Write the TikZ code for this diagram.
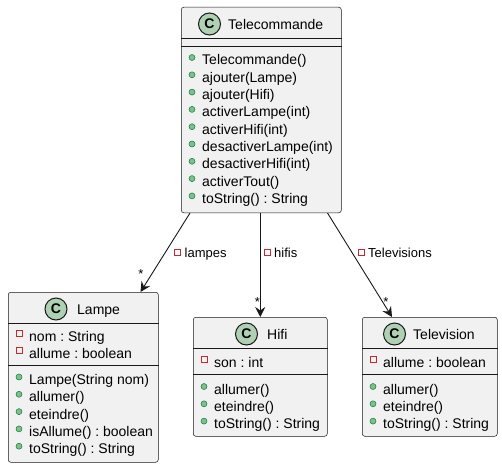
\documentclass[tikz,border=0pt]{standalone}
\usepackage{fontspec}
\setmainfont{Liberation Sans}
\usetikzlibrary{arrows.meta}
\frenchspacing

\definecolor{boxfill}{HTML}{F1F1F1}
\definecolor{boxline}{HTML}{181818}
\definecolor{cfill}{HTML}{ADD1B2}
\definecolor{pubfill}{HTML}{84BE84}
\definecolor{publine}{HTML}{038048}
\definecolor{privline}{HTML}{C82930}

\begin{document}
\begin{tikzpicture}[x=1pt,y=-1pt,
	cls/.style={draw=boxline,line width=0.5pt,fill=boxfill,rounded corners=2.5pt,anchor=north west,inner sep=0pt},
	cmark/.style={circle,draw=boxline,line width=1pt,fill=cfill,minimum size=22pt,inner sep=0pt,font=\fontsize{14}{14}\selectfont\bfseries},
	cname/.style={anchor=base west,inner sep=0pt,font=\fontsize{14}{16}\selectfont},
	memb/.style={anchor=base west,inner sep=0pt,font=\fontsize{14}{16}\selectfont},
	sep/.style={draw=boxline,line width=0.5pt},
	pub/.style={fill=pubfill,draw=publine,line width=0.5pt},
	priv/.style={draw=privline,line width=0.8pt},
	assoc/.style={draw=boxline,line width=0.9pt,-{Stealth[length=10pt,width=10pt,inset=3.5pt]}},
	elabel/.style={anchor=base west,inner sep=0pt,font=\fontsize{13}{15}\selectfont},
	mult/.style={anchor=base,inner sep=0pt,font=\fontsize{13}{15}\selectfont}
	]
	\useasboundingbox (0,0) rectangle (502,468);

	\node[cls,minimum width=160pt,minimum height=205.5pt] (tele) at (181,7) {};
	\node[cmark] (teleC) at (209.5,24) {C};
	\node[cname] (teleN) at (228,29.5) {Telecommande};
	\draw[sep] ([yshift=-31.5pt]tele.north west) -- ([yshift=-31.5pt]tele.north east);
	\draw[sep] ([yshift=-39.5pt]tele.north west) -- ([yshift=-39.5pt]tele.north east);
	\foreach \m [count=\i from 0] in {Telecommande(),ajouter(Lampe),ajouter(Hifi),activerLampe(int),activerHifi(int),desactiverLampe(int),desactiverHifi(int),activerTout(),toString() : String}{
		\node[memb] (teleM\i) at (202,65+17.3*\i) {\m};
		\filldraw[pub] (192,57.5+17.3*\i) circle (3pt);
	}

	\node[cls,minimum width=150pt,minimum height=170pt] (lampe) at (8,292) {};
	\node[cmark] (lampeC) at (56,309) {C};
	\node[cname] (lampeN) at (77,314.5) {Lampe};
	\draw[sep] ([yshift=-31.5pt]lampe.north west) -- ([yshift=-31.5pt]lampe.north east);
	\draw[sep] ([yshift=-73.5pt]lampe.north west) -- ([yshift=-73.5pt]lampe.north east);
	\foreach \m [count=\i from 0] in {nom : String,allume : boolean}{
		\node[memb] (lampeA\i) at (29,341+17.3*\i) {\m};
		\draw[priv] (16,330.5+17.3*\i) rectangle ++(6,6);
	}
	\foreach \m [count=\i from 0] in {Lampe(String nom),allumer(),eteindre(),isAllume() : boolean,toString() : String}{
		\node[memb] (lampeM\i) at (29,384.5+17.3*\i) {\m};
		\filldraw[pub] (19,377+17.3*\i) circle (3pt);
	}

	\node[cls,minimum width=134pt,minimum height=119pt] (hifi) at (193,317) {};
	\node[cmark] (hifiC) at (246.5,334) {C};
	\node[cname] (hifiN) at (267,339.5) {Hifi};
	\draw[sep] ([yshift=-31.5pt]hifi.north west) -- ([yshift=-31.5pt]hifi.north east);
	\draw[sep] ([yshift=-57.5pt]hifi.north west) -- ([yshift=-57.5pt]hifi.north east);
	\node[memb] (hifiA0) at (214,367) {son : int};
	\draw[priv] (201,356.5) rectangle ++(6,6);
	\foreach \m [count=\i from 0] in {allumer(),eteindre(),toString() : String}{
		\node[memb] (hifiM\i) at (214,394+17.3*\i) {\m};
		\filldraw[pub] (204,386.5+17.3*\i) circle (3pt);
	}

	\node[cls,minimum width=135pt,minimum height=119pt] (tv) at (362,317) {};
	\node[cmark] (tvC) at (394.5,334) {C};
	\node[cname] (tvN) at (413,339.5) {Television};
	\draw[sep] ([yshift=-31.5pt]tv.north west) -- ([yshift=-31.5pt]tv.north east);
	\draw[sep] ([yshift=-57.5pt]tv.north west) -- ([yshift=-57.5pt]tv.north east);
	\node[memb] (tvA0) at (383,367) {allume : boolean};
	\draw[priv] (370,356.5) rectangle ++(6,6);
	\foreach \m [count=\i from 0] in {allumer(),eteindre(),toString() : String}{
		\node[memb] (tvM\i) at (383,394+17.3*\i) {\m};
		\filldraw[pub] (373,386.5+17.3*\i) circle (3pt);
	}

	\draw[assoc] ([xshift=9pt]tele.south west) -- ([xshift=-18pt]lampe.north east);
	\draw[assoc] ([xshift=-1pt]tele.south) -- (hifi.north);
	\draw[assoc] ([xshift=-14pt]tele.south east) -- ([xshift=30pt]tv.north west);

	\node[elabel] (lampesL) at (184.5,257) {lampes};
	\draw[priv] ([xshift=-10pt,yshift=1.5pt]lampesL.base west) rectangle ++(6,-6);
	\node[elabel] (hifisL) at (274,257) {hifis};
	\draw[priv] ([xshift=-10pt,yshift=1.5pt]hifisL.base west) rectangle ++(6,-6);
	\node[elabel] (tvL) at (368,257) {Televisions};
	\draw[priv] ([xshift=-10pt,yshift=1.5pt]tvL.base west) rectangle ++(6,-6);

	\node[mult] (lampesM) at (141,278.5) {*};
	\node[mult] (hifisM) at (257.5,306.5) {*};
	\node[mult] (tvM) at (386,306.5) {*};
\end{tikzpicture}
\end{document}
